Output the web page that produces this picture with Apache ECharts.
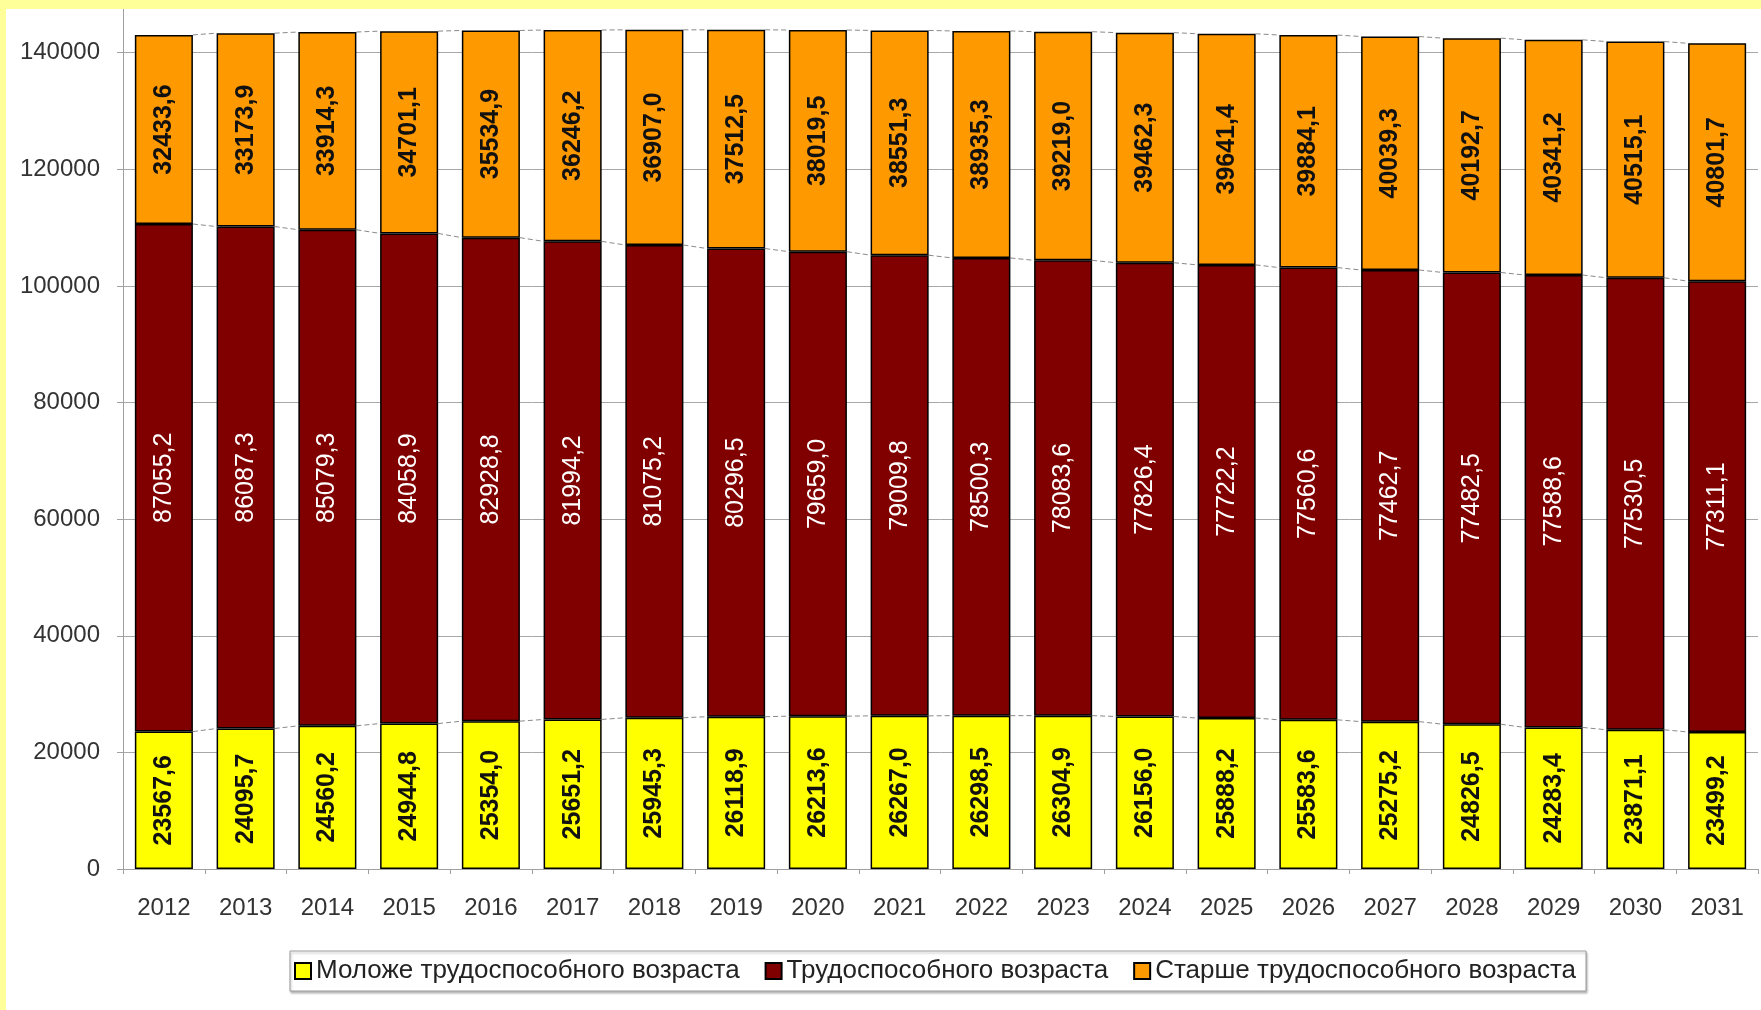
<!DOCTYPE html>
<html>
<head>
<meta charset="utf-8">
<script src="https://cdn.jsdelivr.net/npm/echarts@6/dist/echarts.min.js"></script>
<style>
html,body{margin:0;padding:0;background:#FFFF99;width:1761px;height:1010px;overflow:hidden;}
#chart{position:absolute;left:6px;top:9px;width:1755px;height:1001px;background:#fff;}
</style>
</head>
<body>
<div id="chart"></div>
<script>
const years = ['2012','2013','2014','2015','2016','2017','2018','2019','2020','2021','2022','2023','2024','2025','2026','2027','2028','2029','2030','2031'];
const seriesNames = ['Моложе трудоспособного возраста','Трудоспособного возраста','Старше трудоспособного возраста'];
const young = [23567.6,24095.7,24560.2,24944.8,25354.0,25651.2,25945.3,26118.9,26213.6,26267.0,26298.5,26304.9,26156.0,25888.2,25583.6,25275.2,24826.5,24283.4,23871.1,23499.2];
const working = [87055.2,86087.3,85079.3,84058.9,82928.8,81994.2,81075.2,80296.5,79659.0,79009.8,78500.3,78083.6,77826.4,77722.2,77560.6,77462.7,77482.5,77588.6,77530.5,77311.1];
const older = [32433.6,33173.9,33914.3,34701.1,35534.9,36246.2,36907.0,37512.5,38019.5,38551.3,38935.3,39219.0,39462.3,39641.4,39884.1,40039.3,40192.7,40341.2,40515.1,40801.7];

const FONT = "'Liberation Sans', Arial, sans-serif";
const fmt = v => (Array.isArray(v) ? v[1] : v).toFixed(1).replace('.', ',');

// boundaries for connector (series) lines
const b1 = young.slice();
const b2 = young.map((v,i)=>v+working[i]);
const b3 = b2.map((v,i)=>v+older[i]);
const connData = [];
for (let i=0;i<years.length-1;i++){
  connData.push([i, b1[i], b1[i+1], b2[i], b2[i+1], b3[i], b3[i+1]]);
}
const BAR_RATIO = 0.71;

const chart = echarts.init(document.getElementById('chart'));
function labelCfg(color, weight){
  return {show:true, position:'inside', rotate:90, color:color, fontWeight:weight,
          fontSize:25, fontFamily:FONT, formatter:p=>fmt(p.value)};
}
chart.setOption({
  animation:false,
  backgroundColor:'#fff',
  grid:{left:117, right:3, top:0, bottom:141, containLabel:false},
  legend:{
    data:seriesNames, left:284, top:942, orient:'horizontal',
    itemWidth:16, itemHeight:16, itemGap:25,
    padding:[7,10,7,4],
    borderColor:'#999', borderWidth:1, backgroundColor:'#fff',
    shadowColor:'rgba(0,0,0,0.25)', shadowOffsetX:1, shadowOffsetY:2, shadowBlur:2,
    textStyle:{fontSize:26, color:'#222', fontFamily:FONT},
    icon:'rect'
  },
  xAxis:{
    type:'category', data:years,
    axisLine:{lineStyle:{color:'#a0a0a0', width:1}},
    axisTick:{show:true, length:5, lineStyle:{color:'#a0a0a0'}},
    axisLabel:{fontSize:24, color:'#333', fontFamily:FONT, margin:27}
  },
  yAxis:{
    type:'value', min:0, max:147500, interval:20000,
    axisLine:{show:true, lineStyle:{color:'#a0a0a0'}},
    axisTick:{show:true, length:6, lineStyle:{color:'#a0a0a0'}},
    axisLabel:{fontSize:24, color:'#333', fontFamily:FONT, margin:23, showMaxLabel:false,
      formatter:v=> (v % 20000 === 0 ? String(v) : '')},
    splitLine:{show:true, showMaxLine:false, lineStyle:{color:'#a8a8a8', width:1}}
  },
  series:[
    {name:seriesNames[0], type:'bar', stack:'t', data:young, barWidth:(BAR_RATIO*100)+'%',
     itemStyle:{color:'#FFFF00', borderColor:'#000', borderWidth:1.5},
     label:labelCfg('#111','bold')},
    {name:seriesNames[1], type:'bar', stack:'t', data:working, barWidth:(BAR_RATIO*100)+'%',
     itemStyle:{color:'#800000', borderColor:'#000', borderWidth:1.5},
     label:labelCfg('#fff','normal')},
    {name:seriesNames[2], type:'bar', stack:'t', data:older, barWidth:(BAR_RATIO*100)+'%',
     itemStyle:{color:'#FF9900', borderColor:'#000', borderWidth:1.5},
     label:labelCfg('#111','bold')},
    {name:'connectors', type:'custom', data:connData, silent:true, z:1,
     encode:{x:0, y:[1,2,3,4,5,6]},
     renderItem:function(params, api){
       const i = api.value(0);
       const hw = api.size([1,0])[0]*BAR_RATIO/2;
       const children = [];
       for (let k=0;k<3;k++){
         const p1 = api.coord([i, api.value(1+2*k)]);
         const p2 = api.coord([i+1, api.value(2+2*k)]);
         children.push({type:'line', shape:{x1:p1[0]+hw, y1:p1[1], x2:p2[0]-hw, y2:p2[1]},
           style:{stroke:'#8a8a8a', lineWidth:1, lineDash:[5,3]}});
       }
       return {type:'group', children:children};
     }}
  ]
});
</script>
</body>
</html>
